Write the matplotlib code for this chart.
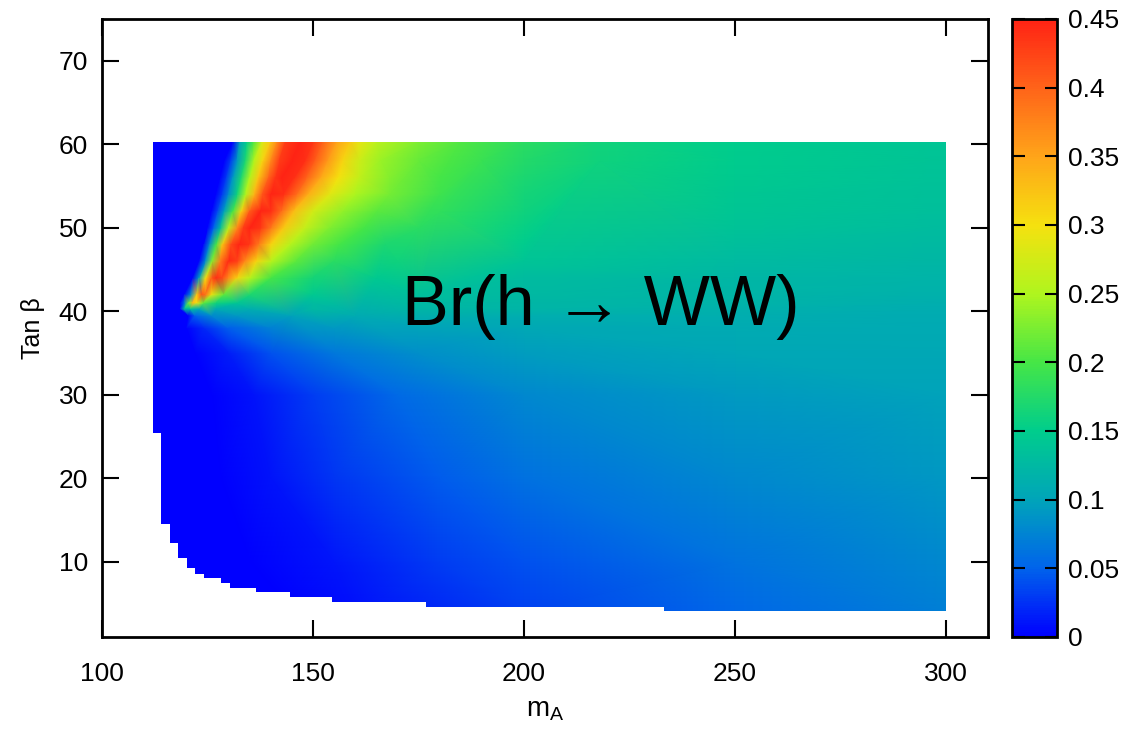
import numpy as np
import matplotlib
matplotlib.use("Agg")
import matplotlib.pyplot as plt
from matplotlib.tri import Triangulation
from matplotlib.colors import LinearSegmentedColormap, Normalize
from matplotlib.patches import Polygon

plt.rcParams['font.family'] = ['Liberation Sans', 'DejaVu Sans']
plt.rcParams['mathtext.fontset'] = 'custom'
plt.rcParams['mathtext.rm'] = 'Liberation Sans'
plt.rcParams['mathtext.it'] = 'Liberation Sans'

# ---------------- data ----------------
# Br(h -> WW) values along rows of constant tan(beta)
tb_levels = [4, 10, 20, 30, 35, 38, 39.5, 40.3, 41, 42, 44, 46, 48, 50, 52, 54, 56, 58, 60.3]

row_04_ma = [112, 145, 160, 200, 250, 300]
row_04_br = [0.0, 0.0, 0.008, 0.033, 0.054, 0.072]
row_10_ma = [112, 135, 155, 180, 200, 250, 300]
row_10_br = [0.0, 0.0, 0.012, 0.03, 0.042, 0.062, 0.078]
row_20_ma = [112, 128, 140, 155, 180, 200, 250, 300]
row_20_br = [0.0, 0.0, 0.01, 0.027, 0.047, 0.06, 0.078, 0.09]
row_30_ma = [112, 126, 136, 150, 170, 200, 250, 300]
row_30_br = [0.0, 0.0, 0.01, 0.03, 0.055, 0.078, 0.093, 0.1]
row_35_ma = [112, 122, 130, 140, 155, 175, 200, 250, 300]
row_35_br = [0.0, 0.0, 0.015, 0.042, 0.066, 0.083, 0.094, 0.102, 0.104]
row_38_ma = [112, 120, 124, 130, 140, 155, 175, 200, 250, 300]
row_38_br = [0.0, 0.0, 0.02, 0.048, 0.073, 0.09, 0.1, 0.105, 0.108, 0.106]
row_395_ma = [112, 120.5, 122, 126, 132, 145, 160, 200, 250, 300]
row_395_br = [0.0, 0.0, 0.05, 0.08, 0.09, 0.1, 0.108, 0.112, 0.112, 0.108]
row_403_ma = [112, 118.5, 119.5, 121, 123, 127, 135, 150, 175, 200, 250, 300]
row_403_br = [0.0, 0.0, 0.13, 0.14, 0.11, 0.108, 0.112, 0.125, 0.122, 0.12, 0.116, 0.11]
row_41_ma = [112, 118.5, 119.5, 120.5, 121.5, 122.5, 124, 127, 132, 150, 175, 200, 250, 300]
row_41_br = [0.0, 0.0, 0.06, 0.22, 0.33, 0.3, 0.21, 0.16, 0.14, 0.13, 0.125, 0.122, 0.118, 0.112]
row_42_ma = [112, 119.5, 121, 122.5, 123.5, 124.5, 126, 129, 135, 150, 175, 200, 250, 300]
row_42_br = [0.0, 0.0, 0.08, 0.32, 0.41, 0.39, 0.29, 0.21, 0.17, 0.145, 0.132, 0.126, 0.12, 0.115]
row_44_ma = [112, 121.5, 123, 124.5, 126, 127, 128.5, 130, 132, 135, 140, 150, 165, 200, 250, 300]
row_44_br = [0.0, 0.0, 0.1, 0.3, 0.41, 0.44, 0.42, 0.37, 0.31, 0.255, 0.2, 0.165, 0.145, 0.13, 0.123, 0.118]
row_46_ma = [112, 123, 124.5, 126, 128, 130, 132, 134, 136.5, 140, 146, 155, 170, 200, 250, 300]
row_46_br = [0.0, 0.0, 0.08, 0.23, 0.38, 0.445, 0.43, 0.37, 0.31, 0.255, 0.21, 0.18, 0.16, 0.14, 0.128, 0.122]
row_48_ma = [112, 124, 125.5, 127, 128.5, 130.5, 132.5, 135, 137, 140, 144.5, 150, 156, 167, 200, 250, 300]
row_48_br = [0.0, 0.0, 0.08, 0.2, 0.32, 0.42, 0.45, 0.435, 0.385, 0.31, 0.255, 0.22, 0.2, 0.17, 0.148, 0.132, 0.126]
row_50_ma = [112, 125, 126.5, 128, 130, 132, 133.5, 135, 137.5, 140, 143, 148, 154, 162, 175, 200, 250, 300]
row_50_br = [0.0, 0.0, 0.05, 0.13, 0.26, 0.37, 0.43, 0.45, 0.435, 0.385, 0.32, 0.265, 0.228, 0.2, 0.18, 0.155, 0.138, 0.13]
row_52_ma = [112, 126, 127.5, 129, 131, 133, 135, 137.5, 140, 142.5, 145.5, 150, 157, 165, 180, 200, 250, 300]
row_52_br = [0.0, 0.0, 0.04, 0.1, 0.2, 0.31, 0.405, 0.45, 0.44, 0.395, 0.33, 0.275, 0.237, 0.21, 0.185, 0.16, 0.141, 0.132]
row_54_ma = [112, 127, 128.5, 130, 132, 134, 136, 138, 140, 143, 146, 149, 154, 160, 168, 180, 200, 250, 300]
row_54_br = [0.0, 0.0, 0.03, 0.08, 0.16, 0.25, 0.335, 0.41, 0.45, 0.44, 0.395, 0.34, 0.285, 0.248, 0.222, 0.195, 0.165, 0.144, 0.134]
row_56_ma = [112, 128, 129.5, 131, 133, 135, 137, 139.5, 141, 142.5, 145.5, 148.5, 152, 156, 161, 168, 180, 200, 250, 300]
row_56_br = [0.0, 0.0, 0.03, 0.09, 0.17, 0.25, 0.32, 0.4, 0.435, 0.45, 0.44, 0.4, 0.345, 0.3, 0.262, 0.23, 0.2, 0.17, 0.146, 0.136]
row_58_ma = [112, 129, 130.5, 132, 134, 136, 138, 140, 142, 145, 148, 150.5, 153.5, 157, 161, 166, 175, 190, 200, 218, 250, 300]
row_58_br = [0.0, 0.0, 0.03, 0.09, 0.17, 0.25, 0.31, 0.37, 0.43, 0.45, 0.44, 0.405, 0.36, 0.31, 0.27, 0.24, 0.215, 0.19, 0.175, 0.16, 0.148, 0.138]
row_60_ma = [112, 131, 132.7, 134.3, 135.8, 138, 139.8, 141.5, 143.5, 147, 150, 152.4, 155.7, 158.8, 161, 165, 175, 185, 200, 218, 250, 300]
row_60_br = [0.0, 0.0, 0.1, 0.15, 0.2, 0.28, 0.32, 0.37, 0.43, 0.45, 0.435, 0.4, 0.35, 0.32, 0.29, 0.26, 0.225, 0.205, 0.18, 0.163, 0.15, 0.14]

# lower-left edge of the scanned region (step outline)
step_ma = [112, 114.1, 116.1, 118.1, 120.1, 122.0, 124.2, 128.3, 130.3, 136.5, 144.5, 154.5, 176.8, 233.2]
step_tb = [25.4, 14.5, 12.2, 10.5, 9.3, 8.6, 8.1, 7.45, 6.9, 6.4, 5.8, 5.2, 4.6, 4.1]
ma_max = 300
tb_max = 60.3

# axes / colour scale
x_ticks = [100, 150, 200, 250, 300]
y_ticks = [10, 20, 30, 40, 50, 60, 70]
cbar_ticks = [0, 0.05, 0.1, 0.15, 0.2, 0.25, 0.3, 0.35, 0.4, 0.45]
cbar_labels = ['0', '0.05', '0.1', '0.15', '0.2', '0.25', '0.3', '0.35', '0.4', '0.45']
cmap_colors = ['#0000ff', '#0064eb', '#00a5b9', '#00cd8c', '#46e646',
               '#aff51e', '#f5e10f', '#ffa519', '#ff6419', '#ff2314']

# ---------------- assemble ----------------
rows_ma = [row_04_ma, row_10_ma, row_20_ma, row_30_ma, row_35_ma, row_38_ma, row_395_ma,
           row_403_ma, row_41_ma, row_42_ma, row_44_ma, row_46_ma, row_48_ma, row_50_ma,
           row_52_ma, row_54_ma, row_56_ma, row_58_ma, row_60_ma]
rows_br = [row_04_br, row_10_br, row_20_br, row_30_br, row_35_br, row_38_br, row_395_br,
           row_403_br, row_41_br, row_42_br, row_44_br, row_46_br, row_48_br, row_50_br,
           row_52_br, row_54_br, row_56_br, row_58_br, row_60_br]

xs, ys, zs = [], [], []
for tb, mas, brs in zip(tb_levels, rows_ma, rows_br):
    xs += list(mas)
    ys += [tb] * len(mas)
    zs += list(brs)
xs = np.array(xs, float)
ys = np.array(ys, float)
zs = np.array(zs, float)

# triangulate in screen-like proportions
tri_tmp = Triangulation(xs, ys * 2.0)
tri = Triangulation(xs, ys, tri_tmp.triangles)

cmap = LinearSegmentedColormap.from_list(
    'br', [(v / cbar_ticks[-1], c) for v, c in zip(cbar_ticks, cmap_colors)])
norm = Normalize(vmin=0, vmax=0.45)

fig = plt.figure(figsize=(11.39, 7.36), dpi=100)
ax = fig.add_axes([102 / 1139, 1 - 637 / 736, (988 - 102) / 1139, (637 - 19) / 736])
cax = fig.add_axes([1012 / 1139, 1 - 637 / 736, (1057 - 1012) / 1139, (637 - 19) / 736])

tpc = ax.tripcolor(tri, zs, shading='gouraud', cmap=cmap, norm=norm)

# clip to the scanned region
pts = [(step_ma[0], tb_max), (ma_max, tb_max), (ma_max, step_tb[-1])]
for i in reversed(range(len(step_ma))):
    pts.append((step_ma[i], step_tb[i]))
    if i > 0:
        pts.append((step_ma[i], step_tb[i - 1]))
clip = Polygon(pts, closed=True, transform=ax.transData, facecolor='none', edgecolor='none')
ax.add_patch(clip)
tpc.set_clip_path(clip)

ax.set_xlim(100, 310)
ax.set_ylim(1, 75)
ax.set_xticks(x_ticks)
ax.set_yticks(y_ticks)
ax.set_xticklabels([str(v) for v in x_ticks],
                   fontfamily=['Liberation Sans Narrow', 'Liberation Sans'], fontsize=21)
ax.tick_params(axis='both', direction='in', length=12, width=1.5,
               top=True, right=True, labelsize=19)
ax.tick_params(axis='x', pad=18)
ax.tick_params(axis='y', pad=10)
for sp in ax.spines.values():
    sp.set_linewidth(2)

ax.set_xlabel('m$_\\mathrm{A}$', fontsize=20, labelpad=8,
              fontfamily=['Liberation Sans Narrow', 'Liberation Sans'])
ax.set_ylabel('Tan \u03b2', fontsize=18, labelpad=10)

ax.text(171.2, 38.3, 'Br(h \u2192 WW)', fontsize=50.5, ha='left', va='baseline',
        family=['Liberation Sans', 'DejaVu Sans'])

cb = fig.colorbar(tpc, cax=cax, ticks=cbar_ticks)
cb.ax.set_yticklabels(cbar_labels)
cax.tick_params(direction='in', length=9, width=1.5, left=True, right=True,
                labelsize=19, pad=8)
cb.outline.set_linewidth(2)

fig.savefig('out.png', dpi=100)
